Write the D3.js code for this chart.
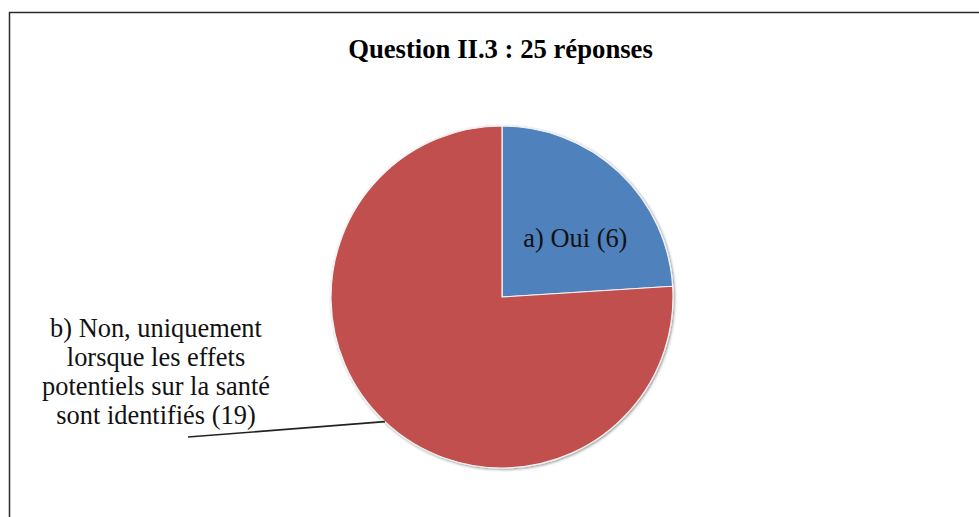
<!DOCTYPE html>
<html>
<head>
<meta charset="utf-8">
<script src="https://cdn.jsdelivr.net/npm/d3@7"></script>
<style>
  html, body { margin: 0; padding: 0; background: #fff; }
  svg { display: block; }
  .serif { font-family: "Liberation Serif", "Tinos", "Times New Roman", "DejaVu Serif", serif; }
</style>
</head>
<body>
<svg id="chart" width="979" height="517"></svg>
<script>
// Answers to question II.3
const categories = ["a) Oui (6)", "b) Non, uniquement lorsque les effets potentiels sur la santé sont identifiés (19)"];
const labelLines = [
  ["a) Oui (6)"],
  ["b) Non, uniquement", "lorsque les effets", "potentiels sur la santé", "sont identifiés (19)"]
];
const values = [6, 19];
const colors = ["#4F81BD", "#C0504D"];
const title = "Question II.3 : 25 réponses";

const svg = d3.select("#chart");
const W = 979, H = 517;
const cx = 502, cy = 297, r = 171;
const fs = 26.4;

// Frame (open to the right and bottom of the view)
svg.append("rect")
  .attr("x", 9.5).attr("y", 12.5)
  .attr("width", W + 20).attr("height", H + 20)
  .attr("fill", "#fff").attr("stroke", "#2b2b2b").attr("stroke-width", 1.5);

// Title
svg.append("text")
  .attr("class", "serif")
  .attr("x", 500.5).attr("y", 58)
  .attr("text-anchor", "middle")
  .attr("font-weight", "bold").attr("font-size", 26.7)
  .text(title);

// Soft shadow around the pie
const defs = svg.append("defs");
const f = defs.append("filter").attr("id", "shadow")
  .attr("x", "-10%").attr("y", "-10%").attr("width", "120%").attr("height", "120%");
f.append("feGaussianBlur").attr("in", "SourceAlpha").attr("stdDeviation", 1.6).attr("result", "b");
f.append("feOffset").attr("in", "b").attr("dx", 0.5).attr("dy", 0.8).attr("result", "o");
f.append("feComponentTransfer").attr("in", "o").attr("result", "s")
  .append("feFuncA").attr("type", "linear").attr("slope", 0.45);
const m = f.append("feMerge");
m.append("feMergeNode").attr("in", "s");
m.append("feMergeNode").attr("in", "SourceGraphic");

const pie = d3.pie().sort(null).value(d => d)(values);
const arc = d3.arc().innerRadius(0).outerRadius(r);

const g = svg.append("g").attr("transform", `translate(${cx},${cy})`);
g.append("g").attr("filter", "url(#shadow)")
  .selectAll("path").data(pie).join("path")
  .attr("d", arc)
  .attr("fill", (d, i) => colors[i])
  .attr("stroke", "#f4f4f4").attr("stroke-width", 1.2)
  .attr("stroke-linejoin", "round");

// Inside label for the first slice
const inner = d3.arc().innerRadius(r * 0.55).outerRadius(r * 0.55);
const [ix, iy] = inner.centroid(pie[0]);
g.append("text")
  .attr("class", "serif")
  .attr("x", ix + 9).attr("y", iy + 18.5)
  .attr("text-anchor", "middle")
  .attr("font-size", fs).attr("fill", "#111")
  .text(labelLines[0][0]);

// Outside label for the second slice, with a leader line from the slice's mid-angle
const leaderAngle = (pie[1].startAngle + pie[1].endAngle) / 2;
const ex = Math.sin(leaderAngle) * r, ey = -Math.cos(leaderAngle) * r;
g.append("line")
  .attr("x1", ex).attr("y1", ey)
  .attr("x2", 188 - cx).attr("y2", 437 - cy)
  .attr("stroke", "#222").attr("stroke-width", 1.6);

const lbl = svg.append("text")
  .attr("class", "serif")
  .attr("text-anchor", "middle")
  .attr("font-size", fs).attr("fill", "#111");
labelLines[1].forEach((line, i) => {
  lbl.append("tspan").attr("x", 156).attr("y", 337 + i * 29).text(line);
});
</script>
</body>
</html>
